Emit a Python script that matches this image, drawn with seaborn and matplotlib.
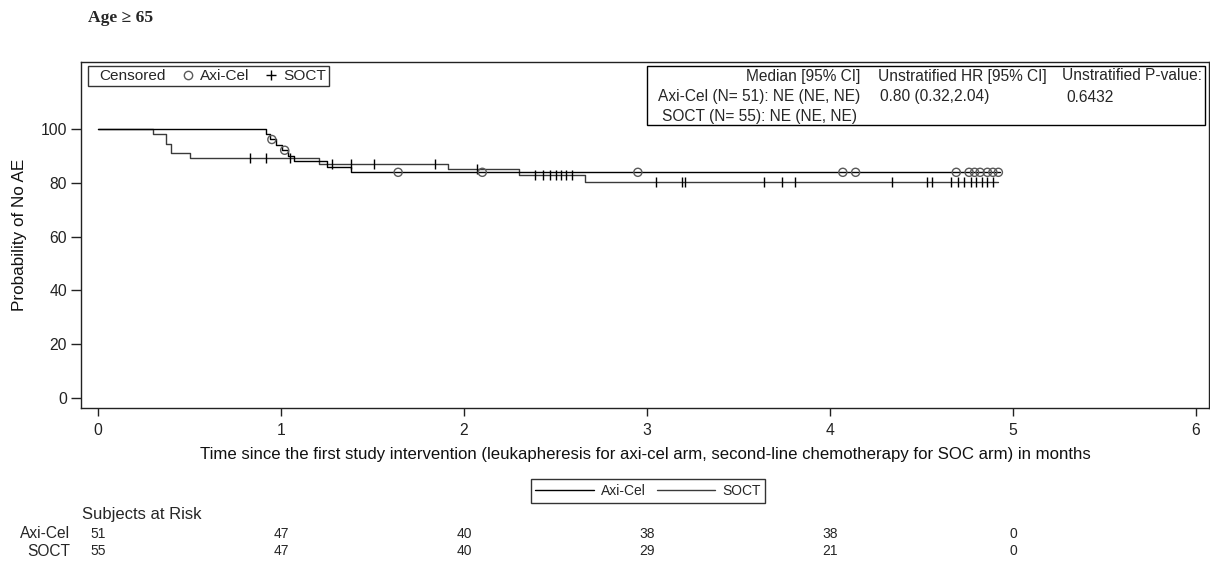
import numpy as np
import pandas as pd
import matplotlib
matplotlib.use("Agg")
import matplotlib.pyplot as plt
from matplotlib.lines import Line2D
from matplotlib.patches import Rectangle
from matplotlib.transforms import blended_transform_factory
import seaborn as sns

# ---------------- data ----------------
arms = ["Axi-Cel", "SOCT"]
n_subjects = [51, 55]

axi_times = [0, 0.92, 0.94, 0.97, 1.005, 1.04, 1.07, 1.25, 1.38, 4.93]
axi_surv = [100, 98.0, 96.1, 94.1, 92.1, 90.0, 88.0, 85.9, 83.9, 83.9]
axi_censor = [0.95, 1.02, 1.64, 2.10, 2.95, 4.07, 4.14, 4.69, 4.76, 4.79,
              4.82, 4.86, 4.89, 4.92]

soct_times = [0, 0.30, 0.37, 0.40, 0.50, 1.21, 1.91, 2.30, 2.66, 4.92]
soct_surv = [100, 98.2, 94.5, 90.9, 89.1, 87.1, 85.0, 82.9, 80.2, 80.2]
soct_censor = [0.83, 0.92, 1.05, 1.28, 1.38, 1.51, 1.84, 2.07, 2.39, 2.43,
               2.47, 2.50, 2.53, 2.56, 2.59, 3.05, 3.19, 3.21, 3.64, 3.74,
               3.81, 4.34, 4.53, 4.56, 4.66, 4.70, 4.73, 4.77, 4.80, 4.83,
               4.86, 4.89]

risk_times = [0, 1, 2, 3, 4, 5]
risk_axi = [51, 47, 40, 38, 38, 0]
risk_soct = [55, 47, 40, 29, 21, 0]

x_ticks = [0, 1, 2, 3, 4, 5, 6]
y_ticks = [0, 20, 40, 60, 80, 100]

stat_header = ["Median [95% CI]", "Unstratified HR [95% CI]", "Unstratified P-value:"]
stat_axi = ["Axi-Cel (N= 51): NE (NE, NE)", "0.80 (0.32,2.04)", "0.6432"]
stat_soct = ["SOCT (N= 55): NE (NE, NE)"]

title = "Age \u2265 65"
xlabel = ("Time since the first study intervention (leukapheresis for axi-cel arm, "
          "second-line chemotherapy for SOC arm) in months")
ylabel = "Probability of No AE"

# ---------------- style ----------------
sns.set_theme(style="white")
plt.rcParams["font.family"] = ["Liberation Sans", "DejaVu Sans"]

fig = plt.figure(figsize=(12.1, 5.61), dpi=100)
ax = fig.add_axes([81 / 1210, 1 - 408 / 561, 1128 / 1210, 346 / 561])

axi_color = "black"
soct_color = "#3a3a3a"
circ_color = "#5a5a5a"


def step_value(times, surv, t):
    idx = np.searchsorted(np.asarray(times), np.asarray(t), side="right") - 1
    return np.asarray(surv)[idx]


df_axi = pd.DataFrame({"t": axi_times, "s": axi_surv})
df_soct = pd.DataFrame({"t": soct_times, "s": soct_surv})

sns.lineplot(data=df_soct, x="t", y="s", drawstyle="steps-post", color=soct_color,
             lw=1.0, estimator=None, sort=False, ax=ax)
sns.lineplot(data=df_axi, x="t", y="s", drawstyle="steps-post", color=axi_color,
             lw=1.0, estimator=None, sort=False, ax=ax)

sns.scatterplot(x=soct_censor, y=step_value(soct_times, soct_surv, soct_censor),
                marker="|", s=60, color="black", linewidth=1.0, ax=ax, zorder=3)
sns.scatterplot(x=axi_censor, y=step_value(axi_times, axi_surv, axi_censor),
                marker="o", s=34, facecolors="none", edgecolors=circ_color,
                linewidth=1.0, ax=ax, zorder=4)

ax.set_xlim(-0.093, 6.071)
ax.set_ylim(-3.7, 124.9)
ax.set_xticks(x_ticks)
ax.set_yticks(y_ticks)
ax.set_xticklabels([str(v) for v in x_ticks], fontsize=11.3)
ax.set_yticklabels([str(v) for v in y_ticks], fontsize=11.3)
ax.tick_params(axis="x", direction="out", length=6, width=1, pad=5, bottom=True, colors="#222222")
ax.tick_params(axis="y", direction="out", length=7, width=1, pad=3, left=True, colors="#222222")
for sp in ax.spines.values():
    sp.set_color("#222222")
    sp.set_linewidth(1.0)
    sp.set_visible(True)

ax.set_xlabel(xlabel, fontsize=12.1, color="#111111")
ax.set_ylabel(ylabel, fontsize=12.3, color="#111111")
ax.xaxis.set_label_coords(0.5, -0.112)
ax.yaxis.set_label_coords(-0.0475, 0.5)

# censored legend
h_cens = [Line2D([], [], ls="none"),
          Line2D([], [], ls="none", marker="o", mfc="none", mec=circ_color, ms=6, mew=1),
          Line2D([], [], ls="none", marker="+", color="black", ms=6.5, mew=1)]
leg = ax.legend(h_cens, ["Censored", "Axi-Cel", "SOCT"], ncol=3, loc="upper left",
                bbox_to_anchor=(0.0062, 0.988), borderaxespad=0, fontsize=11.1,
                frameon=True, fancybox=False, borderpad=0.2, handlelength=0.5,
                handletextpad=0.55, columnspacing=1.15)
leg.get_frame().set_edgecolor("black")
leg.get_frame().set_linewidth(1.0)
# pull the blank "Censored" handle slot to the left edge
leg._legend_handle_box.get_children()[0].get_children()[0].get_children()[0].set_width(0)

# stats box
fig.patches.append(Rectangle((647 / 1210, 1 - 125 / 561), 558 / 1210, 59 / 561,
                             transform=fig.transFigure, fill=False,
                             edgecolor="black", lw=1.0))
fs_stat = 11.2
fig.text(860 / 1210, 1 - 76 / 561, stat_header[0], ha="right", va="center", fontsize=fs_stat)
fig.text(878 / 1210, 1 - 76 / 561, stat_header[1], ha="left", va="center", fontsize=fs_stat)
fig.text(1062 / 1210, 1 - 76 / 561, stat_header[2], ha="left", va="center", fontsize=fs_stat)
fig.text(860 / 1210, 1 - 97 / 561, stat_axi[0], ha="right", va="center", fontsize=fs_stat)
fig.text(880 / 1210, 1 - 97 / 561, stat_axi[1], ha="left", va="center", fontsize=fs_stat)
fig.text(1066 / 1210, 1 - 97 / 561, stat_axi[2], ha="left", va="center", fontsize=fs_stat)
fig.text(857 / 1210, 1 - 116 / 561, stat_soct[0], ha="right", va="center", fontsize=fs_stat)

# title
fig.text(88 / 1210, 1 - 18 / 561, title, ha="left", va="center", fontsize=12.6,
         fontweight="bold", family=["Liberation Serif", "DejaVu Serif"])

# bottom legend
h_arm = [Line2D([], [], color=axi_color, lw=1.0), Line2D([], [], color=soct_color, lw=1.0)]
leg2 = fig.legend(h_arm, arms, ncol=2, loc="center", bbox_to_anchor=(648 / 1210, 1 - 491 / 561),
                  fontsize=10, frameon=True, fancybox=False, borderpad=0.35,
                  handlelength=4.2, handletextpad=0.5, columnspacing=0.8)
leg2.get_frame().set_edgecolor("black")
leg2.get_frame().set_linewidth(1.0)

# risk table
tr = blended_transform_factory(ax.transData, fig.transFigure)
fig.text(82 / 1210, 1 - 514 / 561, "Subjects at Risk", ha="left", va="center", fontsize=12)
row_y = [1 - 534 / 561, 1 - 551 / 561]
for name, vals, yy in zip(arms, [risk_axi, risk_soct], row_y):
    fig.text(70 / 1210, yy, name, ha="right", va="center", fontsize=11.2)
    for t, v in zip(risk_times, vals):
        ax.text(t, yy, str(v), transform=tr, ha="center", va="center", fontsize=10,
                clip_on=False)

fig.savefig("out.png", dpi=100)
